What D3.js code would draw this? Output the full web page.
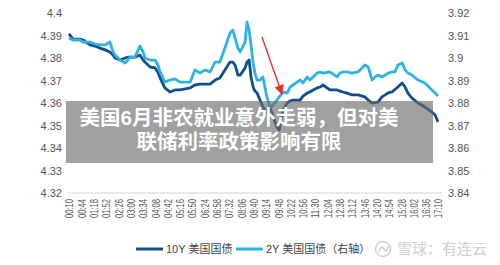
<!DOCTYPE html>
<html>
<head>
<meta charset="utf-8">
<script src="https://cdn.jsdelivr.net/npm/d3@7"></script>
<style>
body { margin: 0; background: #fff; }
svg { display: block; font-family: Arial, "Liberation Sans", "Noto Sans CJK SC", sans-serif; }
</style>
</head>
<body>
<svg id="chart" width="500" height="265"></svg>
<script>
// values
var times = [
  '00:10','00:21','00:40','00:49','01:08','01:22','01:36','01:50','02:03','02:12',
  '02:17','02:31','02:45','02:53','02:59','03:12','03:26','03:35','03:40','03:54',
  '04:08','04:16','04:22','04:35','04:49','05:03','05:17','05:45','05:58','06:12',
  '06:26','06:40','06:54','07:07','07:21','07:35','07:43','07:49','07:57','08:03',
  '08:17','08:22','08:28','08:33','08:39','08:44','08:50','08:58','09:06','09:17',
  '09:26','09:34','09:45','09:51','09:56','10:02','10:13','10:21','10:29','10:49',
  '10:57','11:08','11:16','11:25','11:36','11:44','11:52','12:11','12:31','12:39',
  '12:47','12:58','13:12','13:29','13:48','13:57','14:08','14:16','14:24','14:35',
  '14:44','14:52','15:03','15:11','15:19','15:31','15:39','15:47','15:58','16:15',
  '16:34','16:53','17:02','17:10'
];
var yield10Y = [
  4.3907, 4.3884, 4.3884, 4.3880, 4.3858, 4.3853, 4.3844, 4.3836, 4.3827, 4.3813,
  4.3800, 4.3791, 4.3800, 4.3804, 4.3804, 4.3804, 4.3813, 4.3791, 4.3782, 4.3760,
  4.3756, 4.3736, 4.3711, 4.3667, 4.3649, 4.3658, 4.3658, 4.3667, 4.3680, 4.3684,
  4.3684, 4.3684, 4.3702, 4.3711, 4.3747, 4.3782, 4.3782, 4.3769, 4.3724, 4.3724,
  4.3756, 4.3782, 4.3791, 4.3716, 4.3671, 4.3653, 4.3644, 4.3613, 4.3582, 4.3556,
  4.3582, 4.3538, 4.3493, 4.3480, 4.3524, 4.3569, 4.3600, 4.3609, 4.3613, 4.3613,
  4.3631, 4.3644, 4.3649, 4.3658, 4.3667, 4.3671, 4.3680, 4.3658, 4.3658, 4.3653,
  4.3649, 4.3644, 4.3636, 4.3636, 4.3627, 4.3613, 4.3600, 4.3602, 4.3604, 4.3627,
  4.3636, 4.3645, 4.3649, 4.3660, 4.3671, 4.3689, 4.3671, 4.3644, 4.3622, 4.3600,
  4.3582, 4.3560, 4.3547, 4.3516
];
var yield2Y = [
  3.9089, 3.9080, 3.9080, 3.9071, 3.9071, 3.9062, 3.9058, 3.9058, 3.9071, 3.9027,
  3.9013, 3.8991, 3.8978, 3.8991, 3.9004, 3.9004, 3.9053, 3.9027, 3.9000, 3.8991,
  3.8991, 3.8969, 3.8938, 3.8893, 3.8902, 3.8907, 3.8893, 3.8893, 3.8947, 3.8933,
  3.8947, 3.8938, 3.8982, 3.8982, 3.9044, 3.9111, 3.9124, 3.9089, 3.9044, 3.9027,
  3.9071, 3.9160, 3.9124, 3.9058, 3.8978, 3.8933, 3.8902, 3.8902, 3.8916, 3.8827,
  3.8778, 3.8791, 3.8813, 3.8827, 3.8836, 3.8849, 3.8844, 3.8871, 3.8880, 3.8902,
  3.8889, 3.8916, 3.8902, 3.8916, 3.8933, 3.8938, 3.8933, 3.8938, 3.8916, 3.8933,
  3.8938, 3.8938, 3.8933, 3.8938, 3.8969, 3.8960, 3.8902, 3.8916, 3.8924, 3.8916,
  3.8924, 3.8933, 3.8938, 3.8938, 3.8969, 3.8978, 3.8947, 3.8933, 3.8924, 3.8902,
  3.8889, 3.8858, 3.8844, 3.8831
];
var leftTicks = [4.32, 4.33, 4.34, 4.35, 4.36, 4.37, 4.38, 4.39, 4.4];
var rightTicks = [3.84, 3.85, 3.86, 3.87, 3.88, 3.89, 3.9, 3.91, 3.92];
var xTickLabels = [
  '00:10','00:44','01:18','01:52','02:26','03:00','03:34','04:08','04:42','05:16',
  '05:50','06:24','06:58','07:32','08:06','08:40','09:14','09:48','10:22','10:56',
  '11:30','12:04','12:38','13:12','13:46','14:20','14:54','15:28','16:02','16:36','17:10'
];
var seriesNames = ['10Y 美国国债', '2Y 美国国债（右轴）'];
var seriesColors = ['#104e8d', '#2db2e3'];
var headline = ['美国6月非农就业意外走弱，但对美', '联储利率政策影响有限'];
var watermark = '雪球：有连云';

function toMin(s) {
  var p = s.split(':');
  return (+p[0]) * 60 + (+p[1]);
}
function trimNum(d) { return String(+d.toFixed(2)); }

var svg = d3.select('#chart');

var x = d3.scaleLinear()
  .domain([toMin(xTickLabels[0]), toMin(xTickLabels[xTickLabels.length - 1])])
  .range([69, 438]);
var yL = d3.scaleLinear().domain([4.32, 4.4]).range([193, 13]);
var yR = d3.scaleLinear().domain([3.84, 3.92]).range([193, 13]);

// baseline grid
svg.append('line')
  .attr('x1', 68).attr('x2', 442)
  .attr('y1', yL(4.32)).attr('y2', yL(4.32))
  .style('stroke', '#d4d4d4').style('stroke-width', 1);

var gL = svg.append('g')
  .attr('transform', 'translate(68,0)')
  .call(d3.axisLeft(yL).tickValues(leftTicks).tickSize(0).tickPadding(6).tickFormat(trimNum));
var gR = svg.append('g')
  .attr('transform', 'translate(442,0)')
  .call(d3.axisRight(yR).tickValues(rightTicks).tickSize(0).tickPadding(6).tickFormat(trimNum));
[gL, gR].forEach(function(g) {
  g.select('.domain').remove();
  g.selectAll('text')
    .style('font-size', '11px')
    .style('fill', '#555')
    .style('font-family', 'Arial, "Liberation Sans", sans-serif');
});

var gX = svg.append('g')
  .attr('transform', 'translate(0,' + yL(4.32) + ')')
  .call(d3.axisBottom(x)
    .tickValues(xTickLabels.map(toMin))
    .tickSize(0)
    .tickFormat(function(d, i) { return xTickLabels[i]; }));
gX.select('.domain').remove();
gX.selectAll('text')
  .attr('transform', 'rotate(-90)')
  .attr('text-anchor', 'end')
  .attr('x', -6)
  .attr('y', 0)
  .attr('dy', '0.36em')
  .attr('textLength', 19)
  .attr('lengthAdjust', 'spacingAndGlyphs')
  .style('font-size', '11px')
  .style('fill', '#555')
  .style('font-family', 'Arial, "Liberation Sans", sans-serif');

// series
var rows = times.map(function(t, i) {
  return { t: toMin(t), a: yield10Y[i], b: yield2Y[i] };
});
var line10 = d3.line().x(function(d) { return x(d.t); }).y(function(d) { return yL(d.a); });
var line2 = d3.line().x(function(d) { return x(d.t); }).y(function(d) { return yR(d.b); });

svg.append('path')
  .datum(rows)
  .attr('d', line10)
  .style('fill', 'none')
  .style('stroke', seriesColors[0])
  .style('stroke-width', 2.8)
  .style('stroke-linejoin', 'round');
svg.append('path')
  .datum(rows)
  .attr('d', line2)
  .style('fill', 'none')
  .style('stroke', seriesColors[1])
  .style('stroke-width', 2.8)
  .style('stroke-linejoin', 'round');

// red arrow
var defs = svg.append('defs');
defs.append('marker')
  .attr('id', 'arrowhead')
  .attr('viewBox', '0 0 10 10')
  .attr('refX', 9).attr('refY', 5)
  .attr('markerWidth', 7).attr('markerHeight', 7)
  .attr('orient', 'auto')
  .append('path')
  .attr('d', 'M0,0 L10,5 L0,10 z')
  .style('fill', '#e8312f');
svg.append('line')
  .attr('x1', 262).attr('y1', 37)
  .attr('x2', 282).attr('y2', 94)
  .style('stroke', '#e8312f')
  .style('stroke-width', 1.4)
  .attr('marker-end', 'url(#arrowhead)');

// headline banner (one text, two lines)
// latin primary font keeps the line box tight; CJK glyphs fall back to Noto
svg.append('rect')
  .attr('x', 66).attr('y', 101)
  .attr('width', 367).attr('height', 62)
  .style('fill', 'rgba(105,105,105,0.63)');
svg.append('text')
  .classed('headline', true)
  .attr('text-anchor', 'middle')
  .style('font-family', '"Liberation Sans", "Noto Sans CJK SC", sans-serif')
  .style('font-weight', 'bold')
  .style('font-size', '20.5px')
  .style('fill', '#fff')
  .selectAll('tspan')
  .data(headline)
  .enter()
  .append('tspan')
  .attr('x', 239)
  .attr('y', function(d, i) { return 125 + i * 24; })
  .text(function(d) { return d; });

// legend
var legendX = [136, 236];
var leg = svg.selectAll('.legend')
  .data(seriesNames)
  .enter()
  .append('g')
  .classed('legend', true)
  .attr('transform', function(d, i) { return 'translate(' + legendX[i] + ',249)'; });
leg.append('line')
  .attr('x1', 0).attr('x2', 27)
  .style('stroke', function(d, i) { return seriesColors[i]; })
  .style('stroke-width', 3);
leg.append('text')
  .attr('x', 30)
  .attr('dy', '0.36em')
  .style('font-size', '11px')
  .style('fill', '#444')
  .text(function(d) { return d; });

// watermark
var wm = svg.append('g').attr('transform', 'translate(383,249)').style('opacity', 0.9);
wm.append('circle')
  .attr('r', 7.5)
  .style('fill', 'none')
  .style('stroke', '#cfcfcf')
  .style('stroke-width', 1.6);
wm.append('path')
  .attr('d', 'M-4,3 Q-2,-5 1,0 T5,-3')
  .style('fill', 'none')
  .style('stroke', '#cfcfcf')
  .style('stroke-width', 1.6);
wm.append('text')
  .attr('x', 14)
  .attr('dy', '0.36em')
  .style('font-family', '"Noto Sans CJK SC", sans-serif')
  .style('font-size', '15px')
  .style('fill', '#cbcbcb')
  .text(watermark);
</script>
</body>
</html>
